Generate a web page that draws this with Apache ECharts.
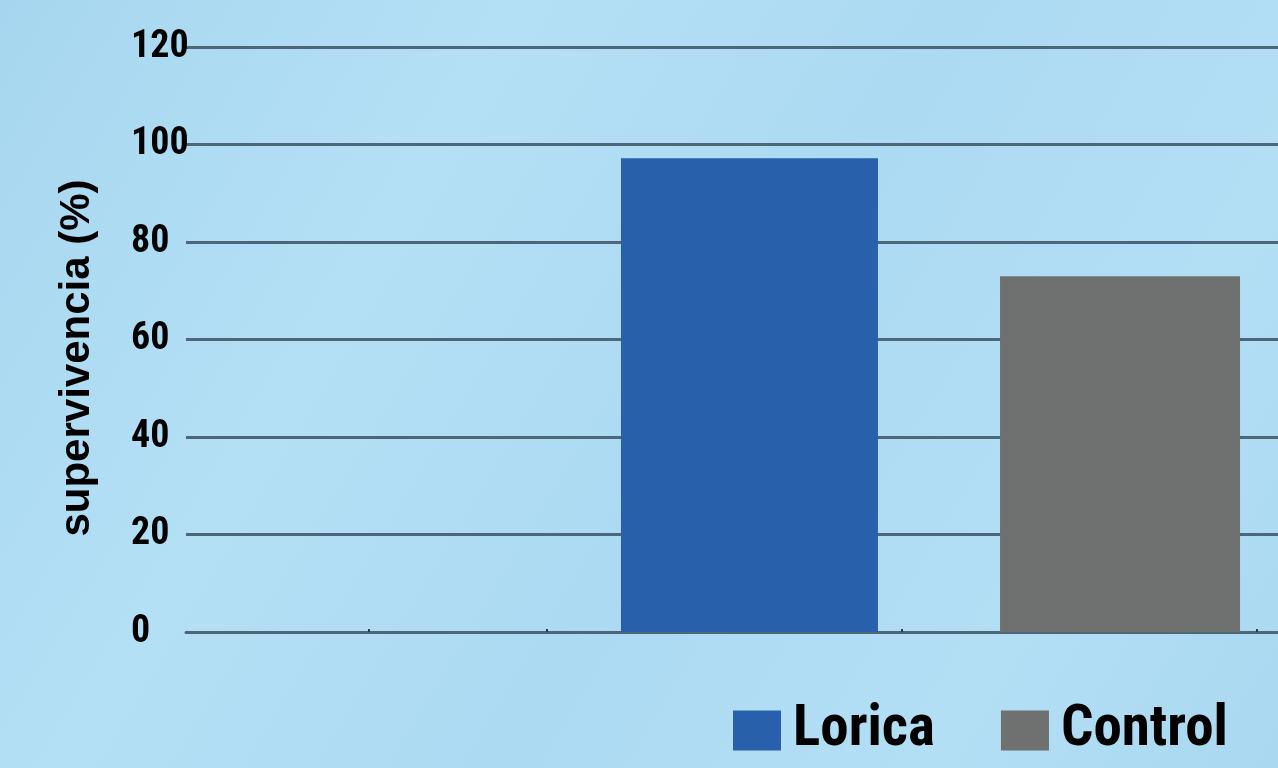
<!DOCTYPE html>
<html>
<head>
<meta charset="utf-8">
<script src="https://cdn.jsdelivr.net/npm/echarts@6/dist/echarts.min.js"></script>
<style>
html,body{margin:0;padding:0;width:1278px;height:768px;overflow:hidden;}
#chart{width:1278px;height:768px;}
</style>
</head>
<body>
<div id="chart"></div>
<script>
// ---- data ----
var categories = ['Grupo'];
var seriesNames = ['Lorica', 'Control'];
var loricaValues = [97.2];
var controlValues = [73];
var yTicks = [0, 20, 40, 60, 80, 100, 120];
var yTitle = 'supervivencia (%)';

var narrow = '"Roboto Condensed", "DejaVu Sans Condensed", sans-serif';
var gridColor = '#4c677a';

var chart = echarts.init(document.getElementById('chart'));
chart.setOption({
  animation: false,
  backgroundColor: {
    type: 'linear', x: 0, y: 0, x2: 1, y2: 1,
    colorStops: [
      {offset: 0, color: '#a6d6ef'},
      {offset: 0.3, color: '#b4e0f5'},
      {offset: 0.55, color: '#acdaf2'},
      {offset: 0.8, color: '#b3dff5'},
      {offset: 1, color: '#a9d8f0'}
    ]
  },
  legend: {
    data: seriesNames,
    left: 733,
    top: 702,
    width: 600,
    padding: 0,
    itemGap: 66,
    itemWidth: 48,
    itemHeight: 40,
    icon: 'rect',
    textStyle: {
      fontFamily: narrow,
      fontWeight: 'bold',
      fontSize: 57,
      color: '#000',
      padding: [0, 0, 0, 7]
    }
  },
  grid: [
    {left: 186, width: 1489, top: 47, bottom: 136, outerBoundsMode: 'none', containLabel: false},
    {left: 369, width: 888, top: 47, bottom: 136, outerBoundsMode: 'none', containLabel: false}
  ],
  xAxis: [
    {
      type: 'category',
      gridIndex: 0,
      data: categories,
      axisLine: {show: true, lineStyle: {color: gridColor, width: 3}},
      axisTick: {show: false},
      axisLabel: {show: false}
    },
    {
      type: 'value',
      gridIndex: 1,
      min: 0, max: 5, interval: 1,
      axisLine: {show: false},
      axisTick: {show: true, inside: true, length: 3, lineStyle: {color: '#2a3a47', width: 2}},
      axisLabel: {show: false},
      splitLine: {show: false}
    }
  ],
  yAxis: [
    {
      type: 'value',
      gridIndex: 0,
      min: yTicks[0],
      max: yTicks[yTicks.length - 1],
      interval: 20,
      axisLine: {show: false},
      axisTick: {show: false},
      splitLine: {show: true, lineStyle: {color: gridColor, width: 3}},
      axisLabel: {
        margin: 55,
        align: 'left',
        fontFamily: narrow,
        fontWeight: 'bold',
        fontSize: 38,
        color: '#000'
      },
      name: yTitle,
      nameLocation: 'middle',
      nameGap: 88,
      nameTextStyle: {
        fontFamily: '"Liberation Sans", Arial, sans-serif',
        fontWeight: 'bold',
        fontSize: 42,
        color: '#000',
        padding: [0, 37, 0, 0]
      }
    },
    {
      type: 'value', gridIndex: 1, min: 0, max: 1,
      show: false
    }
  ],
  series: [
    {
      name: seriesNames[0],
      type: 'bar',
      xAxisIndex: 0, yAxisIndex: 0,
      data: loricaValues,
      barWidth: 257,
      barGap: '47.5%',
      itemStyle: {color: '#2860ab'}
    },
    {
      name: seriesNames[1],
      type: 'bar',
      xAxisIndex: 0, yAxisIndex: 0,
      data: controlValues,
      barWidth: 240,
      barGap: '47.5%',
      itemStyle: {color: '#6f7070'}
    }
  ]
});
</script>
</body>
</html>
